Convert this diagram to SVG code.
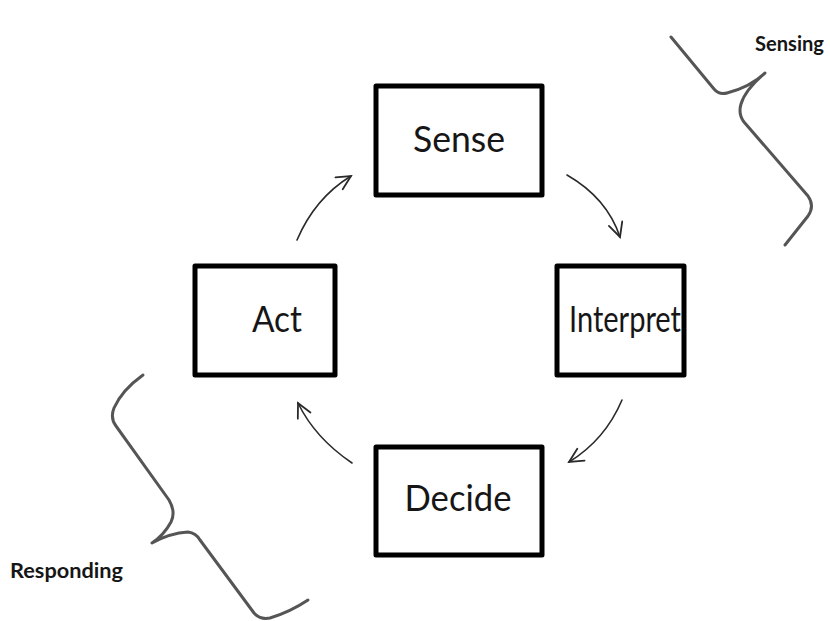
<svg xmlns="http://www.w3.org/2000/svg" width="830" height="621" viewBox="0 0 830 621">
  <style>
    .box { fill: #ffffff; stroke: #000000; stroke-width: 5; stroke-linejoin: round; }
    .label { font-family: Lato, "Open Sans", "Liberation Sans", sans-serif; font-size: 36px; fill: #161616; text-anchor: middle; }
    .note { font-family: Lato, "Open Sans", "Liberation Sans", sans-serif; font-size: 20px; font-weight: bold; fill: #161616; }
    .flow { fill: none; stroke: #2a2a2a; stroke-width: 1.6; stroke-linecap: round; marker-end: url(#head); }
    .brace { fill: none; stroke: #555555; stroke-width: 3; stroke-linejoin: round; stroke-linecap: round; }
  </style>
  <defs>
    <marker id="head" markerUnits="userSpaceOnUse" markerWidth="20" markerHeight="20" refX="16" refY="8" orient="auto">
      <path d="M2,1 L16,8 L2,15" fill="none" stroke="#2a2a2a" stroke-width="1.8" stroke-linecap="round" stroke-linejoin="miter"/>
    </marker>
  </defs>

  <rect width="830" height="621" fill="#ffffff"/>

  <!-- cycle connectors -->
  <g id="connectors">
    <path class="flow" d="M567,175 Q607,198 620,237"/>
    <path class="flow" d="M622,400 Q605,440 569,462"/>
    <path class="flow" d="M352,463 Q315,438 298,403"/>
    <path class="flow" d="M297,240 Q315,198 351,176"/>
  </g>

  <!-- stage boxes -->
  <g id="sense">
    <rect class="box" x="376" y="86" width="166" height="109"/>
    <text class="label" x="459" y="152" textLength="92" lengthAdjust="spacingAndGlyphs">Sense</text>
  </g>
  <g id="interpret">
    <rect class="box" x="557" y="266" width="127" height="109"/>
    <text class="label" x="625" y="332" font-size="34" textLength="112" lengthAdjust="spacingAndGlyphs">Interpret</text>
  </g>
  <g id="decide">
    <rect class="box" x="376" y="447" width="166" height="108"/>
    <text class="label" x="458" y="511" textLength="107" lengthAdjust="spacingAndGlyphs">Decide</text>
  </g>
  <g id="act">
    <rect class="box" x="195" y="266" width="140" height="109"/>
    <text class="label" x="277" y="332" textLength="50" lengthAdjust="spacingAndGlyphs">Act</text>
  </g>

  <!-- phase braces -->
  <g id="sensing">
    <path class="brace" d="M671,37 L714,89 Q719,95 727,93 Q750,87 765,73 Q745,90 741,104 Q738,114 744,122 L808,196 Q815,206 808,216 L785,245"/>
    <text class="note" x="755" y="51" textLength="69" lengthAdjust="spacingAndGlyphs">Sensing</text>
  </g>
  <g id="responding">
    <path class="brace" d="M143,375 Q122,390 114,408 Q110,418 116,426 L169,500 Q176,512 171,522 Q164,535 152,543 Q170,533 188,532 Q196,533 200,540 L254,613 Q260,620 270,618 Q290,612 308,600"/>
    <text class="note" x="10" y="578" textLength="113" lengthAdjust="spacingAndGlyphs">Responding</text>
  </g>
</svg>
